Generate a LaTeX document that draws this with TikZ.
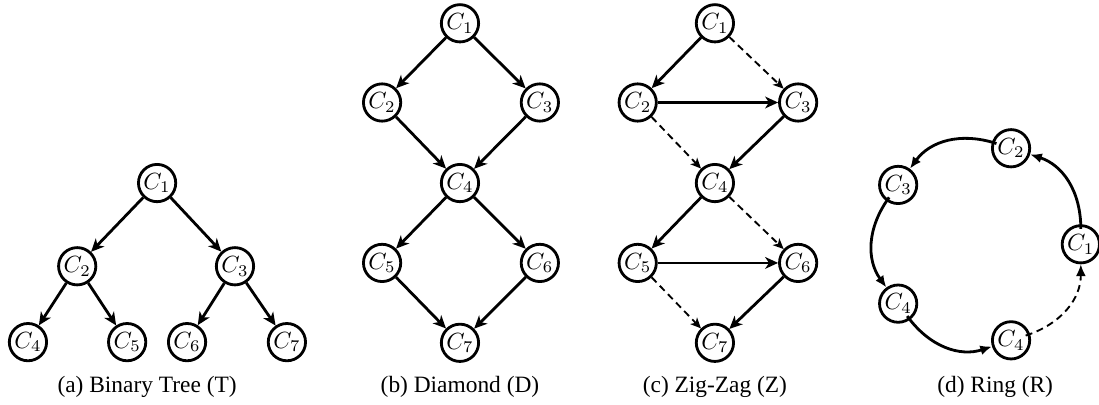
\documentclass[tikz,border=0pt]{standalone}
\usepackage[no-math]{fontspec}
\setmainfont{Liberation Serif}
\usepackage{tikz}
\usetikzlibrary{arrows.meta,positioning,calc}

\tikzset{
  cnode/.style={circle, draw, line width=1.2pt, minimum size=0.56cm, inner sep=0pt},
  edge/.style={line width=1.2pt, -{Stealth[length=5.5pt, width=5pt, inset=1.6pt]}},
  dedge/.style={line width=0.8pt, dash pattern=on 3pt off 2pt, -{Stealth[length=4.5pt, width=4pt, inset=1.2pt]}},
  ringedge/.style={line width=1.2pt, -{Latex[length=5pt, width=4.2pt]}},
  caption/.style={anchor=base, font=\fontsize{10}{12}\selectfont}
}

\begin{document}
\begin{tikzpicture}
\useasboundingbox (0,0) rectangle (16.51,6.07);
% (a) Binary tree
\node[cnode] (t1) at (2.36,3.32) {$C_1$};
\node[cnode] (t2) at (1.16,2.07) {$C_2$};
\node[cnode] (t3) at (3.53,2.07) {$C_3$};
\node[cnode] (t4) at (0.42,0.93) {$C_4$};
\node[cnode] (t5) at (1.91,0.93) {$C_5$};
\node[cnode] (t6) at (2.81,0.93) {$C_6$};
\node[cnode] (t7) at (4.31,0.93) {$C_7$};
\foreach \a/\b in {1/2,1/3,2/4,2/5,3/6,3/7}
    \draw[edge] (t\a) -- (t\b);
\node[caption] (capA) at (2.21,0.18) {(a) Binary Tree (T)};
% (b) Diamond
\node[cnode] (d1) at (6.91,5.72) {$C_1$};
\node[cnode] (d2) at (5.74,4.53) {$C_2$};
\node[cnode] (d3) at (8.11,4.53) {$C_3$};
\node[cnode] (d4) at (6.91,3.32) {$C_4$};
\node[cnode] (d5) at (5.74,2.12) {$C_5$};
\node[cnode] (d6) at (8.11,2.12) {$C_6$};
\node[cnode] (d7) at (6.91,0.92) {$C_7$};
\foreach \a/\b in {1/2,1/3,2/4,3/4,4/5,4/6,5/7,6/7}
    \draw[edge] (d\a) -- (d\b);
\node[caption] (capB) at (6.91,0.18) {(b) Diamond (D)};
% (c) Zig-zag
\node[cnode] (z1) at (10.74,5.72) {$C_1$};
\node[cnode] (z2) at (9.58,4.53) {$C_2$};
\node[cnode] (z3) at (11.99,4.53) {$C_3$};
\node[cnode] (z4) at (10.74,3.32) {$C_4$};
\node[cnode] (z5) at (9.58,2.12) {$C_5$};
\node[cnode] (z6) at (11.99,2.12) {$C_6$};
\node[cnode] (z7) at (10.74,0.92) {$C_7$};
\foreach \a/\b in {1/2,2/3,3/4,4/5,5/6,6/7}
    \draw[edge] (z\a) -- (z\b);
\foreach \a/\b in {1/3,2/4,4/6,5/7}
    \draw[dedge] (z\a) -- (z\b);
\node[caption] (capC) at (10.74,0.18) {(c) Zig-Zag (Z)};
% (d) Ring
\begin{scope}[shift={(14.72,2.40)}]
\foreach \i/\lab in {1/1,2/2,3/3,4/4,5/4}
    \node[cnode] (r\i) at ({72*(\i-1)}:1.517) {$C_{\lab}$};
\foreach \a/\b in {1/2,2/3,3/4,4/5}
    \draw[ringedge, shorten <=-2pt] (r\a) to[bend right=36] (r\b);
\draw[ringedge, line width=0.8pt, dash pattern=on 3pt off 2pt, shorten <=-2pt] (r5) to[bend right=36] (r1);
\end{scope}
\node[caption] (capD) at (14.95,0.18) {(d) Ring (R)};
\end{tikzpicture}
\end{document}
